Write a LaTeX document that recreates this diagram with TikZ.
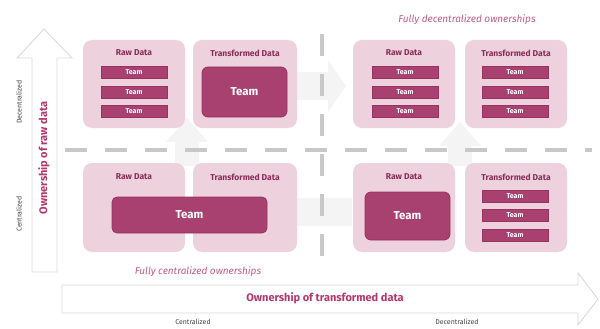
\documentclass[tikz,border=0pt]{standalone}
\usepackage{fontspec}
\setmainfont{Fira Sans}
\begin{document}
\definecolor{panelpink}{HTML}{EDD2DD}
\definecolor{teamc}{HTML}{A8416F}
\definecolor{teamedge}{HTML}{983260}
\definecolor{titlec}{HTML}{8B2D5B}
\definecolor{axisc}{HTML}{B5386C}
\definecolor{notec}{HTML}{C25C88}
\definecolor{sidec}{HTML}{444444}
\definecolor{dashc}{HTML}{C8C8C8}
\definecolor{outlinec}{HTML}{DADADA}
\definecolor{ghostc}{HTML}{F5F4F4}
\begin{tikzpicture}[x=1pt,y=-1pt,
  panel/.style={fill=panelpink, rounded corners=9pt, minimum width=102pt, minimum height=88pt, inner sep=0pt},
  boxtitle/.style={text=titlec, font=\bfseries\fontsize{8.5}{9}\selectfont, inner sep=0pt},
  teambar/.style={fill=teamc, draw=teamedge, line width=0.6pt, text=white, font=\bfseries\fontsize{7}{8}\selectfont, minimum width=66pt, minimum height=12pt, inner sep=0pt},
  teambig/.style={fill=teamc, draw=teamedge, line width=0.8pt, text=white, font=\bfseries\fontsize{11.5}{12}\selectfont, rounded corners=6pt, inner sep=0pt},
  axisarrow/.style={draw=outlinec, line width=0.9pt, fill=white},
  axistitle/.style={text=axisc, font=\bfseries\fontsize{11}{12}\selectfont, inner sep=0pt},
  sidelabel/.style={text=sidec, font=\fontsize{7}{8}\selectfont, inner sep=0pt},
  note/.style={text=notec, font=\itshape\fontsize{10}{11}\selectfont, inner sep=0pt},
  ghost/.style={fill=ghostc, draw=none},
  divider/.style={draw=dashc, line width=4pt, dash pattern=on 22pt off 18pt}
]
\useasboundingbox (0,0) rectangle (600,329);

% faint block arrows between the quadrants
\fill[ghost] (296,72) -- (328,72) -- (328,60) -- (346,86) -- (328,112) -- (328,100) -- (296,100) -- cycle;
\fill[ghost] (175,166) -- (175,142) -- (166,142) -- (187,118) -- (208,142) -- (199,142) -- (199,166) -- cycle;
\fill[ghost] (448,166) -- (448,146) -- (439,146) -- (460,122) -- (481,146) -- (472,146) -- (472,166) -- cycle;
\fill[ghost] (296,198) -- (352,198) -- (352,226) -- (296,226) -- cycle;

% quadrant dividers
\coordinate (hL) at (65,150);
\coordinate (hR) at (592,150);
\coordinate (vT) at (322,34);
\coordinate (vB) at (322,264);
\draw[divider] (hL) -- (hR);
\draw[divider] (vT) -- (vB);

% vertical axis: ownership of raw data
\draw[axisarrow] (32,272) -- (32,58) -- (17,58) -- (44,29) -- (72,58) -- (57,58) -- (57,272) -- cycle;
\node[axistitle, rotate=90] (rawaxis) at (44,158) {Ownership of raw data};
\node[sidelabel, rotate=90] (vdec) at (19,102) {Decentralized};
\node[sidelabel, rotate=90] (vcen) at (19,214) {Centralized};

% horizontal axis: ownership of transformed data
\draw[axisarrow] (62,285) -- (578,285) -- (578,273) -- (598,299) -- (578,325) -- (578,313) -- (62,313) -- cycle;
\node[axistitle] (transaxis) at (325,298) {Ownership of transformed data};
\node[sidelabel] (hcen) at (193,322) {Centralized};
\node[sidelabel] (hdec) at (457,322) {Decentralized};

% top-left quadrant
\node[panel] (tlraw) at (134,84) {};
\node[boxtitle] (tlrawt) at (134,53) {Raw Data};
\node[teambar] (tlr1) at (134,72.5) {Team};
\node[teambar] (tlr2) at (134,92) {Team};
\node[teambar] (tlr3) at (134,111) {Team};
\node[panel, minimum width=104pt] (tltr) at (245,84) {};
\node[boxtitle] (tltrt) at (245,53) {Transformed Data};
\node[teambig, minimum width=85pt, minimum height=50pt] (tlteam) at (244.5,92) {Team};

% top-right quadrant
\node[note] (decnote) at (467,20) {Fully decentralized ownerships};
\node[panel] (trraw) at (404,84) {};
\node[boxtitle] (trrawt) at (404,53) {Raw Data};
\node[teambar] (trr1) at (405,72.5) {Team};
\node[teambar] (trr2) at (405,92) {Team};
\node[teambar] (trr3) at (405,111) {Team};
\node[panel] (trtr) at (516,84) {};
\node[boxtitle] (trtrt) at (516,53) {Transformed Data};
\node[teambar] (trt1) at (515,72.5) {Team};
\node[teambar] (trt2) at (515,92) {Team};
\node[teambar] (trt3) at (515,111) {Team};

% bottom-left quadrant
\node[panel, minimum height=89pt] (blraw) at (134,207.5) {};
\node[boxtitle] (blrawt) at (134,177) {Raw Data};
\node[panel, minimum width=104pt, minimum height=89pt] (bltr) at (245,207.5) {};
\node[boxtitle] (bltrt) at (245,177) {Transformed Data};
\node[teambig, minimum width=155pt, minimum height=36pt, rounded corners=5pt] (blteam) at (189.5,215) {Team};
\node[note] (cennote) at (198,272) {Fully centralized ownerships};

% bottom-right quadrant
\node[panel, minimum height=89pt] (brraw) at (404,207.5) {};
\node[boxtitle] (brrawt) at (404,177) {Raw Data};
\node[teambig, minimum width=85pt, minimum height=48pt] (brteam) at (407.5,216) {Team};
\node[panel, minimum height=89pt] (brtr) at (516,207.5) {};
\node[boxtitle] (brtrt) at (516,177) {Transformed Data};
\node[teambar] (brt1) at (515,196) {Team};
\node[teambar] (brt2) at (515,215) {Team};
\node[teambar] (brt3) at (515,235) {Team};
\end{tikzpicture}
\end{document}
